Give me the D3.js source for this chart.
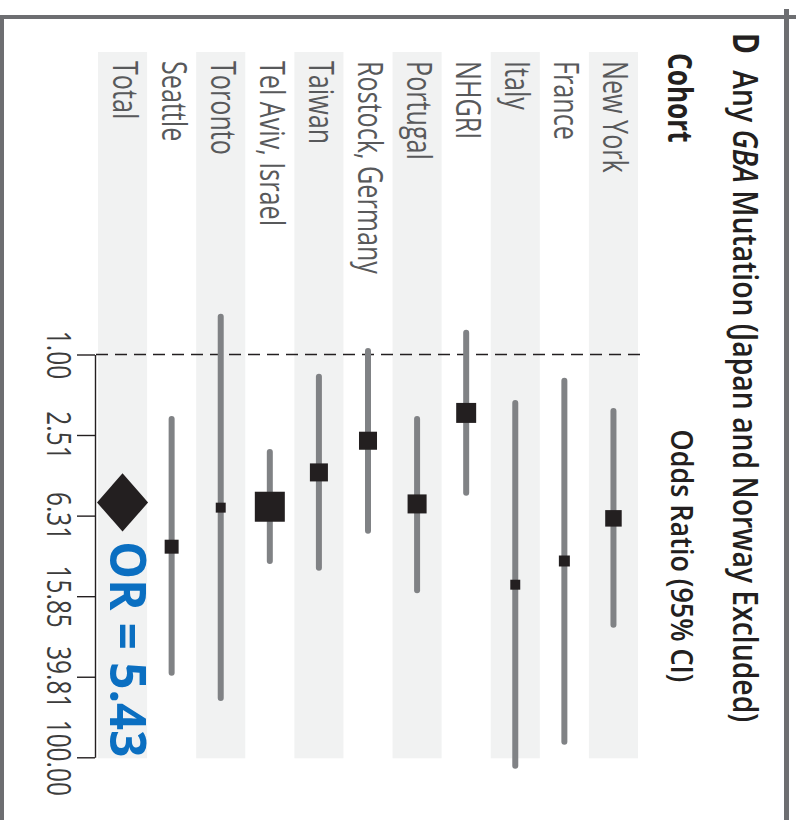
<!DOCTYPE html>
<html>
<head>
<meta charset="utf-8">
<script src="https://cdn.jsdelivr.net/npm/d3@7"></script>
<style>
  body { margin: 0; background: #fff; }
  svg { display: block; }
</style>
</head>
<body>
<svg id="chart" width="801" height="820"></svg>
<script>
// Per-cohort odds ratios with 95% confidence limits and study weights (%)
const cohorts   = ["New York", "France", "Italy", "NHGRI", "Portugal", "Rostock, Germany",
                   "Taiwan", "Tel Aviv, Israel", "Toronto", "Seattle"];
const oddsRatio = [6.51, 10.6, 13.9, 1.95, 5.52, 2.68, 3.85, 5.70, 5.76, 9.0];
const ciLower   = [1.91, 1.35, 1.74, 0.78, 2.09, 0.96, 1.29, 3.05, 0.65, 2.09];
const ciUpper   = [22.0, 83.6, 110, 4.86, 14.8, 7.50, 11.45, 10.6, 50.8, 38.0];
const weights   = [8.8, 3.9, 3.2, 12.9, 11.7, 10.5, 10.5, 29.1, 3.2, 6.3];

// Pooled estimate
const totalLabel = "Total";
const totalOR    = 5.43;
const totalLower = 3.89;
const totalUpper = 7.57;

const tickLabels = ["1.00", "2.51", "6.31", "15.85", "39.81", "100.00"];

const FONT = "'Open Sans', 'Noto Sans', sans-serif";
const K = 0.74;                       // narrow the lettering along its baseline
const rot = (tx, ty, k = K) => `translate(${tx},${ty}) rotate(90) scale(${k},1)`;

const svg = d3.select("#chart");
const rows = [...cohorts, totalLabel];

// Rows run right-to-left, odds ratio runs top-to-bottom (panel turned a quarter turn)
const x = d3.scaleBand().domain(rows).range([638, 98]);
const y = d3.scaleLog().domain([1, 100]).range([354.5, 757.3]);
const side = d3.scaleSqrt().domain([0, d3.max(weights)]).range([0, 30]);
const bw = x.bandwidth();
const cx = d => x(d) + bw / 2;

// Alternating row shading
svg.append("g")
  .selectAll("rect")
  .data(rows.filter((d, i) => i % 2 === 0))
  .join("rect")
  .attr("x", d => x(d))
  .attr("width", bw)
  .attr("y", 52)
  .attr("height", y(100) + 1 - 52)
  .attr("fill", "#f1f2f2");

// Panel frame
const frame = svg.append("g").attr("stroke", "#6d6e71");
frame.append("line").attr("x1", 0).attr("x2", 796).attr("y1", 17).attr("y2", 17).attr("stroke-width", 4);
frame.append("line").attr("x1", 2).attr("x2", 2).attr("y1", 15).attr("y2", 820).attr("stroke-width", 4);
frame.append("line").attr("x1", 786.5).attr("x2", 786.5).attr("y1", 9).attr("y2", 820).attr("stroke-width", 5);

// Line of no effect
svg.append("line")
  .attr("x1", 96).attr("x2", 646)
  .attr("y1", y(1)).attr("y2", y(1))
  .attr("stroke", "#231f20")
  .attr("stroke-width", 1.5)
  .attr("stroke-dasharray", "12,7");

// Odds-ratio axis
const axis = d3.axisLeft(y)
  .tickValues(tickLabels.map(Number))
  .tickFormat((d, i) => tickLabels[i])
  .tickSize(18)
  .tickSizeOuter(0);
const ag = svg.append("g").attr("transform", "translate(95,0)").call(axis);
ag.select(".domain").attr("stroke", "#231f20").attr("stroke-width", 1.4);
ag.selectAll(".tick line").attr("stroke", "#231f20").attr("stroke-width", 1.4);
ag.selectAll(".tick text")
  .attr("x", null).attr("dy", null)
  .attr("text-anchor", "middle")
  .attr("transform", rot(-48, 0))
  .attr("font-family", FONT)
  .attr("font-size", 33)
  .attr("fill", "#3c3c3c");

// Confidence intervals
svg.append("g")
  .selectAll("line")
  .data(cohorts)
  .join("line")
  .attr("x1", d => cx(d)).attr("x2", d => cx(d))
  .attr("y1", (d, i) => y(ciLower[i]))
  .attr("y2", (d, i) => y(ciUpper[i]))
  .attr("stroke", "#808285")
  .attr("stroke-width", 6)
  .attr("stroke-linecap", "round");

// Point estimates, sized by weight
svg.append("g")
  .selectAll("rect")
  .data(cohorts)
  .join("rect")
  .attr("x", (d, i) => cx(d) - side(weights[i]) / 2)
  .attr("y", (d, i) => y(oddsRatio[i]) - side(weights[i]) / 2)
  .attr("width", (d, i) => side(weights[i]))
  .attr("height", (d, i) => side(weights[i]))
  .attr("fill", "#231f20");

// Pooled diamond
const hw = bw / 2 + 1;
svg.append("path")
  .attr("d", `M${cx(totalLabel)},${y(totalLower)}L${cx(totalLabel) + hw},${y(totalOR)}` +
             `L${cx(totalLabel)},${y(totalUpper)}L${cx(totalLabel) - hw},${y(totalOR)}Z`)
  .attr("fill", "#231f20");

// Row labels
svg.append("g")
  .selectAll("text")
  .data(rows)
  .join("text")
  .attr("transform", d => rot(cx(d) - 10, 61))
  .attr("font-family", FONT)
  .attr("font-size", 34)
  .attr("fill", "#58595b")
  .text(d => d);

// Column header
svg.append("text")
  .attr("transform", rot(668, 53, 0.77))
  .attr("font-family", FONT)
  .attr("font-size", 34)
  .attr("font-weight", 700)
  .attr("fill", "#231f20")
  .text("Cohort");

// Panel title
const title = svg.append("text")
  .attr("transform", rot(733, 33, 0.81))
  .attr("font-family", FONT)
  .attr("font-size", 35)
  .attr("font-weight", 600)
  .attr("fill", "#231f20");
title.append("tspan").attr("font-weight", 700).text("D");
title.append("tspan").attr("dx", 20).text("Any ");
title.append("tspan").attr("font-style", "italic").text("GBA");
title.append("tspan").text(" Mutation (Japan and Norway Excluded)");

// Axis title
svg.append("text")
  .attr("transform", rot(671, (y(1) + y(100)) / 2, 0.87))
  .attr("text-anchor", "middle")
  .attr("font-family", FONT)
  .attr("font-size", 31)
  .attr("font-weight", 600)
  .attr("fill", "#231f20")
  .text("Odds Ratio (95% CI)");

// Pooled odds ratio callout
svg.append("text")
  .attr("transform", rot(110, y(100), 0.95))
  .attr("text-anchor", "end")
  .attr("font-family", FONT)
  .attr("font-size", 50)
  .attr("font-weight", 700)
  .attr("fill", "#0b6fc1")
  .text(`OR = ${totalOR.toFixed(2)}`);
</script>
</body>
</html>
